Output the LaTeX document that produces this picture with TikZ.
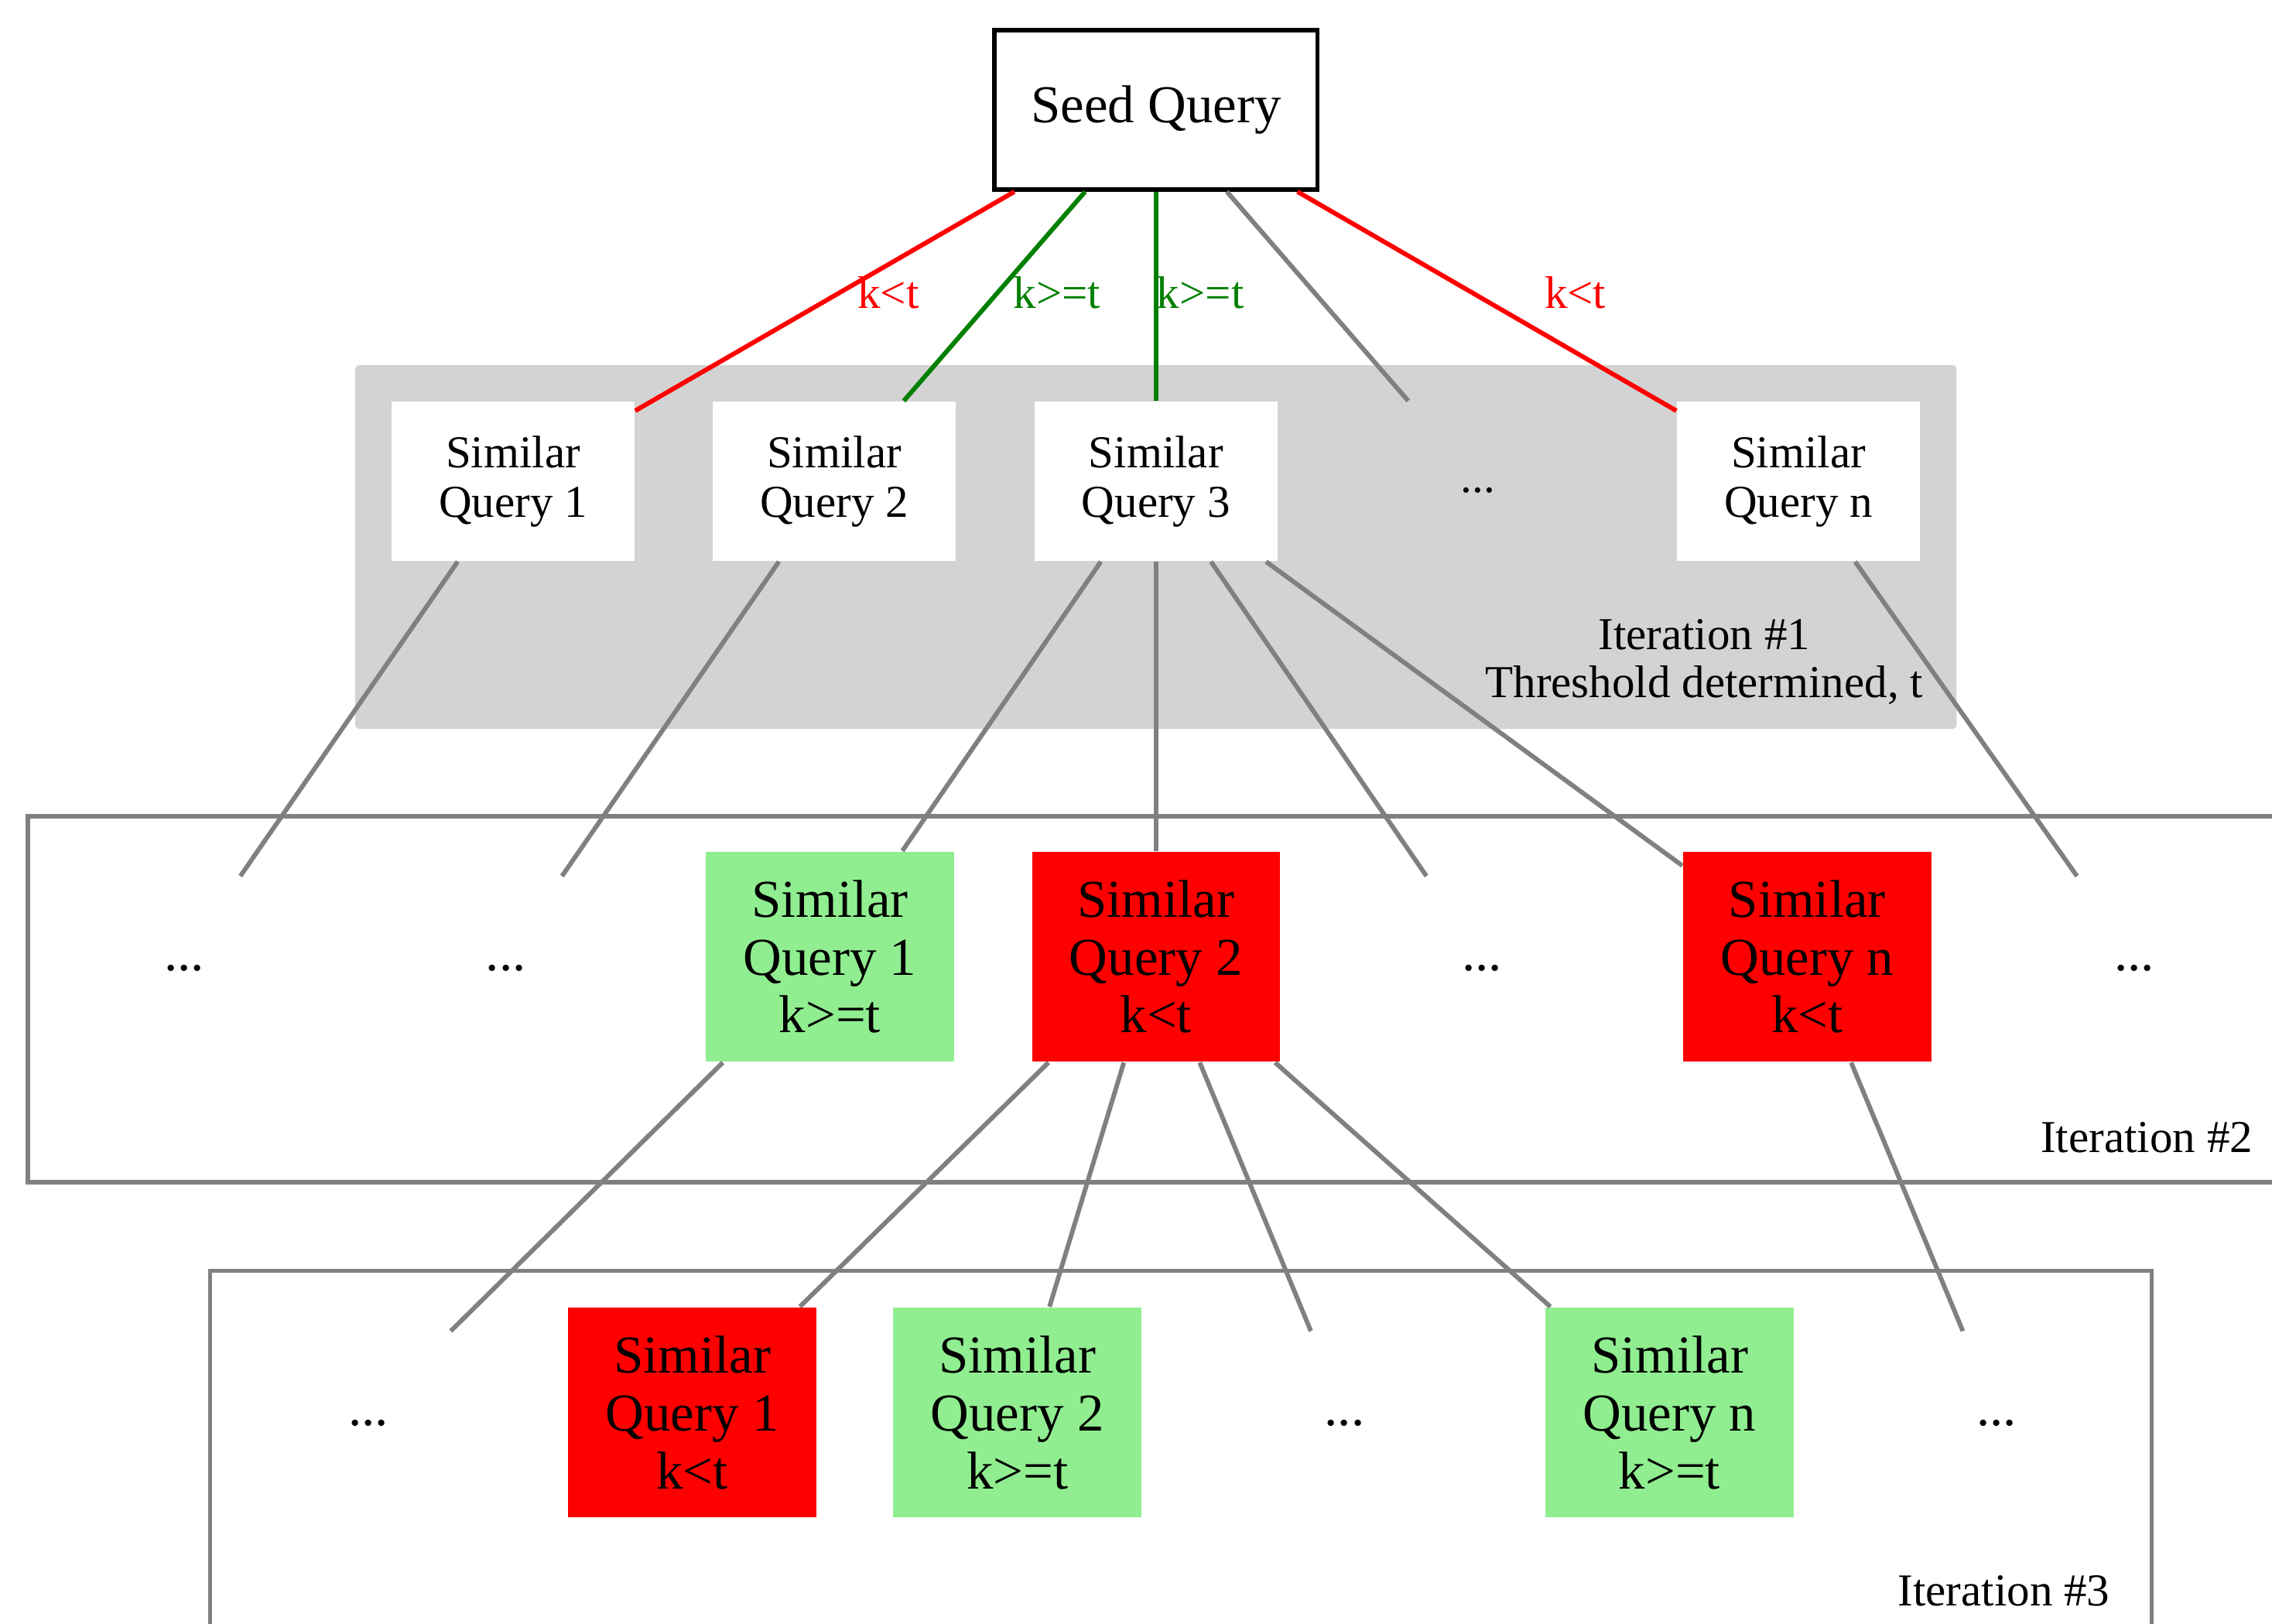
\documentclass[tikz,border=0pt]{standalone}
\usepackage{fontspec}
\setmainfont{Liberation Serif}
\usepackage{tikz}
\usetikzlibrary{positioning}
\definecolor{failc}{RGB}{255,0,0}
\definecolor{passc}{RGB}{0,128,0}
\definecolor{hitc}{RGB}{144,238,144}
\definecolor{linkc}{RGB}{128,128,128}
\definecolor{iterc}{RGB}{211,211,211}
\tikzset{
  seedbox/.style={draw=black,line width=1.15pt,minimum width=2.98cm,minimum height=1.47cm,inner sep=0pt,font=\fontsize{14}{15.2}\selectfont},
  simbox/.style={fill=white,align=center,minimum width=2.24cm,minimum height=1.47cm,inner sep=0pt,font=\fontsize{12}{13}\selectfont},
  hitbox/.style={fill=hitc,align=center,minimum width=2.29cm,minimum height=1.94cm,inner sep=0pt,font=\fontsize{14}{15.2}\selectfont},
  missbox/.style={hitbox,fill=failc},
  dotsbox/.style={minimum width=1.6cm,minimum height=1.49cm,inner sep=0pt,text height=7pt,text depth=0pt,font=\fontsize{14}{15.2}\selectfont},
  link/.style={line width=1.2pt,draw=linkc},
  passlink/.style={line width=1.2pt,draw=passc},
  faillink/.style={line width=1.2pt,draw=failc},
  iterbox/.style={draw=linkc,line width=1.1pt},
  elabel/.style={font=\fontsize{12}{13}\selectfont,inner sep=0pt},
  iterlabel/.style={font=\fontsize{12}{12.6}\selectfont,align=center,inner sep=0pt},
}

\begin{document}
\begin{tikzpicture}
  \useasboundingbox (0,0) rectangle (20.971,-14.986);
  % iteration frames
  \fill[iterc,rounded corners=1pt] (3.28,-3.371) rectangle (18.06,-6.729);
  \draw[iterbox] (21.3,-7.536) -- (0.257,-7.536) -- (0.257,-10.914) -- (21.3,-10.914);
  \draw[iterbox] (1.94,-15.3) -- (1.94,-11.73) -- (19.86,-11.73) -- (19.86,-15.3);
  \node[iterlabel] (it1) at (15.73,-6.11) {Iteration \#1\\Threshold determined, t};
  \node[iterlabel,anchor=east] (it2) at (20.8,-10.5) {Iteration \#2};
  \node[iterlabel,anchor=east] (it3) at (19.48,-14.686) {Iteration \#3};

  \node[seedbox] (seed) at (10.67,-1.014) {Seed Query};

  % iteration 1
  \node[simbox] (s1) at (4.736,-4.443) {Similar\\Query 1};
  \node[simbox] (s2) at (7.70,-4.443) {Similar\\Query 2};
  \node[simbox] (s3) at (10.67,-4.443) {Similar\\Query 3};
  \node[dotsbox,minimum width=1.98cm,minimum height=1.471cm,text height=6pt,font=\fontsize{12}{13}\selectfont] (sd) at (13.64,-4.443) {...};
  \node[simbox] (sn) at (16.60,-4.443) {Similar\\Query n};

  % iteration 2
  \node[dotsbox] (d21) at (1.70,-8.84) {...};
  \node[dotsbox] (d22) at (4.67,-8.84) {...};
  \node[hitbox] (t1) at (7.66,-8.832) {Similar\\Query 1\\k>=t};
  \node[missbox] (t2) at (10.67,-8.832) {Similar\\Query 2\\k<t};
  \node[dotsbox] (d23) at (13.68,-8.84) {...};
  \node[missbox] (tn) at (16.68,-8.832) {Similar\\Query n\\k<t};
  \node[dotsbox] (d24) at (19.70,-8.84) {...};

  % iteration 3
  \node[dotsbox] (d31) at (3.40,-13.04) {...};
  \node[missbox] (u1) at (6.39,-13.04) {Similar\\Query 1\\k<t};
  \node[hitbox] (u2) at (9.39,-13.04) {Similar\\Query 2\\k>=t};
  \node[dotsbox] (d32) at (12.41,-13.04) {...};
  \node[hitbox] (un) at (15.41,-13.04) {Similar\\Query n\\k>=t};
  \node[dotsbox] (d33) at (18.43,-13.04) {...};

  % links from the seed
  \draw[faillink] (seed) -- (s1);
  \draw[passlink] (seed) -- (s2);
  \draw[passlink] (seed) -- (s3);
  \draw[link] (seed) -- (sd);
  \draw[faillink] (seed) -- (sn);
  \node[elabel,text=failc] (k1) at (8.20,-2.70) {k<t};
  \node[elabel,text=passc] (k2) at (9.757,-2.70) {k>=t};
  \node[elabel,text=passc] (k3) at (11.08,-2.70) {k>=t};
  \node[elabel,text=failc] (kn) at (14.54,-2.70) {k<t};

  \foreach \a/\b in {s1/d21,s2/d22,s3/t1,s3/t2,s3/d23,s3/tn,sn/d24,
                     t1/d31,t2/u1,t2/u2,t2/d32,t2/un,tn/d33}
    \draw[link] (\a) -- (\b);
\end{tikzpicture}
\end{document}
